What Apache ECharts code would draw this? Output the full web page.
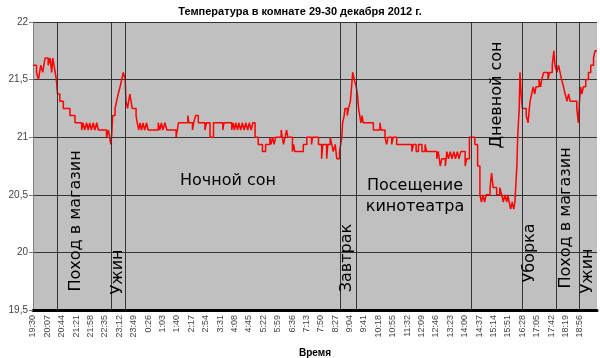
<!DOCTYPE html>
<html>
<head>
<meta charset="utf-8">
<script src="https://cdn.jsdelivr.net/npm/echarts@6/dist/echarts.min.js"></script>
<style>html,body{margin:0;padding:0;background:#fff}#c{width:600px;height:358px}</style>
</head>
<body>
<div id="c"></div>
<script>
// minutes since 19:30 (29 Dec) at which the reading changes, and the new reading
var minutes = [0,9,14,17,20,25,28,31,39,44,46,48,51,54,57,60,63,69,78,95,108,125,129,133,138,142,146,150,155,159,164,168,189,194,197,200,202,205,211,215,219,224,228,232,237,239,243,246,249,252,255,265,268,272,275,279,283,287,292,296,322,326,330,334,339,344,368,371,374,398,401,410,413,418,425,442,446,455,464,488,491,511,514,518,521,526,529,534,538,543,547,552,556,561,565,571,579,590,598,609,612,616,620,624,638,641,644,648,652,655,667,670,673,695,704,716,719,734,742,745,755,758,764,768,772,777,781,788,791,794,796,800,802,808,811,816,819,822,826,831,834,837,840,843,846,849,875,892,895,905,909,913,922,926,935,974,978,985,991,1000,1008,1012,1038,1042,1047,1051,1060,1064,1068,1073,1077,1082,1086,1091,1095,1100,1111,1115,1122,1136,1143,1149,1153,1157,1161,1165,1175,1179,1183,1192,1200,1205,1209,1213,1218,1221,1224,1228,1232,1236,1239,1244,1246,1250,1252,1255,1258,1268,1273,1276,1278,1282,1286,1290,1293,1301,1305,1308,1313,1324,1328,1335,1339,1342,1347,1351,1355,1359,1364,1368,1373,1377,1381,1398,1402,1405,1408,1411,1415,1421,1428,1434,1441,1445,1450];
var temps = [21.625,21.5625,21.5,21.5625,21.625,21.5625,21.625,21.6875,21.625,21.6875,21.625,21.5625,21.6875,21.625,21.5625,21.5,21.375,21.3125,21.25,21.1875,21.125,21.0625,21.125,21.0625,21.125,21.0625,21.125,21.0625,21.125,21.0625,21.125,21.0625,21.0,21.0625,21.0,20.9375,21.0,21.1875,21.25,21.3125,21.375,21.4375,21.5,21.5625,21.5,21.3125,21.25,21.3125,21.375,21.3125,21.25,21.1875,21.125,21.0625,21.125,21.0625,21.125,21.0625,21.125,21.0625,21.125,21.0625,21.125,21.0625,21.125,21.0625,21.0,21.0625,21.125,21.1875,21.125,21.0625,21.125,21.1875,21.125,21.0625,21.125,21.0,21.125,21.0625,21.125,21.0625,21.125,21.0625,21.125,21.0625,21.125,21.0625,21.125,21.0625,21.125,21.0625,21.125,21.0625,21.125,21.0,20.9375,20.875,20.9375,21.0,20.9375,21.0,20.9375,21.0,21.0625,21.0,20.9375,21.0,21.0625,21.0,20.875,20.9375,20.875,20.9375,21.0,20.9375,21.0,20.9375,20.8125,20.9375,20.8125,20.9375,21.0,20.9375,20.875,20.9375,20.8125,20.875,20.9375,21.0,21.125,21.1875,21.25,21.1875,21.25,21.3125,21.4375,21.5625,21.5,21.4375,21.375,21.25,21.1875,21.125,21.1875,21.125,21.0625,21.125,21.0625,21.0,20.9375,21.0,20.9375,21.0,20.9375,20.875,20.9375,20.875,20.9375,20.875,20.9375,20.875,20.8125,20.875,20.75,20.8125,20.75,20.875,20.8125,20.875,20.8125,20.875,20.8125,20.875,20.8125,20.875,20.75,20.8125,21.0,20.9375,20.75,20.5,20.4375,20.5,20.4375,20.5,20.5625,20.6875,20.5625,20.5,20.5625,20.5,20.4375,20.5,20.4375,20.5,20.4375,20.375,20.4375,20.375,20.4375,20.75,21.0,21.25,21.5625,21.375,21.25,21.1875,21.125,21.25,21.3125,21.375,21.4375,21.375,21.4375,21.5,21.4375,21.5,21.5625,21.5,21.5625,21.625,21.75,21.625,21.5625,21.625,21.5625,21.5,21.4375,21.375,21.3125,21.375,21.3125,21.25,21.125,21.3125,21.4375,21.375,21.4375,21.5,21.5625,21.625,21.6875,21.75,21.75];
// x tick labels every 37 minutes
var tickLabels = ['19:30','20:07','20:44','21:21','21:58','22:35','23:12','23:49','0:26','1:03','1:40','2:17','2:54','3:31','4:08','4:45','5:22','5:59','6:36','7:13','7:50','8:27','9:04','9:41','10:18','10:55','11:32','12:09','12:46','13:23','14:00','14:37','15:14','15:51','16:28','17:05','17:42','18:19','18:56'];
var yTicks = [19.5, 20, 20.5, 21, 21.5, 22];
// event boundaries (minutes since 19:30)
var eventMinutes = [62, 202, 238, 791, 832, 1126, 1257, 1346, 1404];

var chart = echarts.init(document.getElementById('c'));
var seriesData = minutes.map(function (m, i) { return [m, temps[i]]; });
var ann = 'DejaVu Sans';
function vText(t, x, y) {
  return { type: 'text', x: x, y: y, rotation: Math.PI / 2, z: 100,
    style: { text: t, font: '16px "' + ann + '"', fill: '#000', align: 'center', verticalAlign: 'middle' } };
}
function hText(t, x, y) {
  return { type: 'text', x: x, y: y, z: 100,
    style: { text: t, font: '16px "' + ann + '"', fill: '#000', align: 'center', verticalAlign: 'middle' } };
}
chart.setOption({
  animation: false,
  backgroundColor: '#fff',
  title: { text: 'Температура в комнате 29-30 декабря 2012 г.', left: 'center', top: 1,
    textStyle: { fontFamily: 'Liberation Sans', fontSize: 11, fontWeight: 'bold', color: '#000' } },
  grid: { left: 33, right: 3, top: 22, bottom: 48, show: true, backgroundColor: '#c0c0c0', borderWidth: 0,
    containLabel: false, outerBoundsMode: 'none' },
  xAxis: {
    type: 'value', min: 0, max: 1450, interval: 37,
    name: 'Время', nameLocation: 'middle', nameGap: 38,
    nameTextStyle: { fontFamily: 'Liberation Sans', fontSize: 10, fontWeight: 'bold', color: '#000' },
    axisLine: { show: true, onZero: false, lineStyle: { color: '#000', width: 3 } },
    axisTick: { show: false },
    splitLine: { show: false },
    axisLabel: { rotate: 90, fontFamily: 'Liberation Sans', fontSize: 9, color: '#444', margin: 5,
      showMaxLabel: false,
      formatter: function (v) { var i = v / 37; return (Math.abs(i - Math.round(i)) < 1e-6 && tickLabels[Math.round(i)]) || ''; } }
  },
  yAxis: {
    type: 'value', min: yTicks[0], max: yTicks[yTicks.length - 1], interval: 0.5,
    name: 'Температура', nameLocation: 'middle', nameGap: 22,
    nameTextStyle: { fontFamily: 'Liberation Sans', fontSize: 10, fontWeight: 'bold', color: '#000' },
    axisLine: { show: true, lineStyle: { color: '#808080' } },
    axisTick: { show: true, length: 4, lineStyle: { color: '#808080' } },
    splitLine: { show: true, lineStyle: { color: '#333', width: 1 } },
    axisLabel: { fontFamily: 'Liberation Sans', fontSize: 10, color: '#444', margin: 5,
      formatter: function (v) { return String(v).replace('.', ','); } }
  },
  series: [{
    type: 'line', step: 'end', data: seriesData, showSymbol: false,
    lineStyle: { color: '#ff0000', width: 1.5 }, itemStyle: { color: '#ff0000' },
    markLine: { silent: true, symbol: 'none', label: { show: false },
      lineStyle: { color: '#333', width: 1, type: 'solid' },
      data: eventMinutes.map(function (m) { return { xAxis: m }; }) },
    z: 3
  }],
  graphic: [
    vText('Поход в магазин', 76, 221),
    vText('Ужин', 118, 272),
    hText('Ночной сон', 228, 181),
    vText('Завтрак', 347, 258),
    hText('Посещение', 415, 186),
    hText('кинотеатра', 415, 207),
    vText('Дневной сон', 497, 95),
    vText('Уборка', 530, 253),
    vText('Поход в магазин', 566, 218),
    vText('Ужин', 588, 271)
  ]
});
</script>
</body>
</html>
